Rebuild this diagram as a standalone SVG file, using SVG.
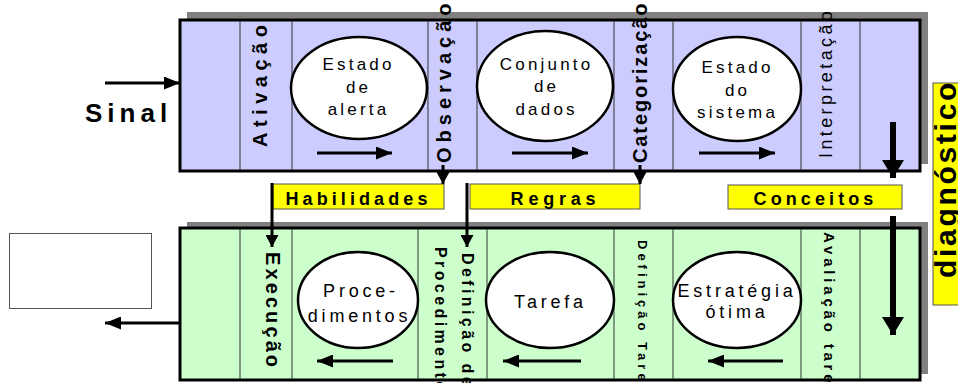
<svg xmlns="http://www.w3.org/2000/svg" width="958" height="383" viewBox="0 0 958 383">
<style>
text{font-family:"Liberation Sans",Arial,sans-serif;fill:#000}
.b{font-weight:bold}
.shadow{fill:#808080}
.frame{stroke:#000;stroke-width:3}
.top{fill:#CCCCFF}
.bot{fill:#CCFFCC}
.div{stroke:#333;stroke-width:1}
.ell{fill:#fff;stroke:#000;stroke-width:2.5}
.lab{fill:#FFFF00;stroke:#555;stroke-width:1}
.ln{stroke:#000;stroke-width:3;fill:none}
.lnB{stroke:#000;stroke-width:6;fill:none}
.et{font-size:17px;letter-spacing:3.2px;text-anchor:middle}
.eb{font-size:18px;letter-spacing:3.8px;text-anchor:middle}
.lt{font-size:18px;font-weight:bold;text-anchor:middle}
</style>
<defs>
<marker id="ah" markerUnits="userSpaceOnUse" markerWidth="16" markerHeight="13" refX="16" refY="6.5" orient="auto"><path d="M0,0 L16,6.5 L0,13 z" fill="#000"/></marker>
<marker id="ahS" markerUnits="userSpaceOnUse" markerWidth="12" markerHeight="13" refX="12" refY="6.5" orient="auto"><path d="M0,0 L12,6.5 L0,13 z" fill="#000"/></marker>
<marker id="ahB" markerUnits="userSpaceOnUse" markerWidth="18" markerHeight="22" refX="18" refY="11" orient="auto"><path d="M0,0 L18,11 L0,22 z" fill="#000"/></marker>
</defs>

<g id="stage-top">
<rect class="shadow" x="187" y="12" width="741" height="152"/>
<rect class="top frame" x="180" y="20" width="740" height="151"/>
<line class="div" x1="240" y1="21" x2="240" y2="170"/>
<line class="div" x1="292" y1="21" x2="292" y2="170"/>
<line class="div" x1="428" y1="21" x2="428" y2="170"/>
<line class="div" x1="477" y1="21" x2="477" y2="170"/>
<line class="div" x1="614" y1="21" x2="614" y2="170"/>
<line class="div" x1="673" y1="21" x2="673" y2="170"/>
<line class="div" x1="801" y1="21" x2="801" y2="170"/>
<line class="div" x1="860" y1="21" x2="860" y2="170"/>
</g>

<g id="stage-bottom">
<rect class="shadow" x="187" y="222" width="741" height="152"/>
<rect class="bot frame" x="180" y="228" width="740" height="152"/>
<line class="div" x1="240" y1="229" x2="240" y2="379"/>
<line class="div" x1="292" y1="229" x2="292" y2="379"/>
<line class="div" x1="418" y1="229" x2="418" y2="379"/>
<line class="div" x1="487" y1="229" x2="487" y2="379"/>
<line class="div" x1="614" y1="229" x2="614" y2="379"/>
<line class="div" x1="673" y1="229" x2="673" y2="379"/>
<line class="div" x1="801" y1="229" x2="801" y2="379"/>
<line class="div" x1="860" y1="229" x2="860" y2="379"/>
</g>

<g id="node-ativacao"><text class="b" font-size="20" letter-spacing="5.5" transform="translate(267,147) rotate(-90)">Ativação</text></g>
<g id="node-observacao"><text class="b" font-size="20" letter-spacing="5" transform="translate(451,163) rotate(-90)">Observação</text></g>
<g id="node-categorizacao"><text class="b" font-size="20" letter-spacing="1.9" transform="translate(647,163) rotate(-90)">Categorização</text></g>
<g id="node-interpretacao"><text font-size="18" letter-spacing="3.4" transform="translate(832,158) rotate(-90)">Interpretação</text></g>

<g id="node-estado-alerta">
<ellipse class="ell" cx="359" cy="88" rx="68" ry="51"/>
<text class="et" x="358.6" y="70">Estado</text>
<text class="et" x="358.6" y="93">de</text>
<text class="et" x="358.6" y="115">alerta</text>
</g>
<g id="node-conjunto-dados">
<ellipse class="ell" cx="545" cy="86" rx="68" ry="55"/>
<text class="et" x="546.6" y="70">Conjunto</text>
<text class="et" x="546.6" y="92">de</text>
<text class="et" x="546.6" y="115">dados</text>
</g>
<g id="node-estado-sistema">
<ellipse class="ell" cx="737" cy="89" rx="64" ry="52"/>
<text class="et" x="737.6" y="73">Estado</text>
<text class="et" x="737.6" y="96">do</text>
<text class="et" x="737.6" y="118">sistema</text>
</g>

<g id="node-execucao"><text class="b" font-size="20" letter-spacing="3.1" transform="translate(266,252) rotate(90)">Execução</text></g>
<g id="node-definicao-procedimentos">
<text class="b" font-size="16" letter-spacing="3.4" transform="translate(462,253) rotate(90)">Definição de</text>
<text class="b" font-size="16" letter-spacing="3.4" transform="translate(435,247) rotate(90)">Procedimentos</text>
</g>
<g id="node-definicao-tarefa"><text class="b" font-size="13" letter-spacing="4" transform="translate(638,240) rotate(90)">Definição Tarefa</text></g>
<g id="node-avaliacao-tarefa"><text class="b" font-size="15" letter-spacing="3.8" transform="translate(824,232) rotate(90)">Avaliação tarefa</text></g>

<g id="node-procedimentos">
<ellipse class="ell" cx="358" cy="300" rx="60" ry="48"/>
<text class="eb" x="361" y="297">Proce-</text>
<text class="eb" x="359.5" y="322">dimentos</text>
</g>
<g id="node-tarefa">
<ellipse class="ell" cx="550" cy="300" rx="64" ry="48"/>
<text class="eb" x="550.5" y="308">Tarefa</text>
</g>
<g id="node-estrategia">
<ellipse class="ell" cx="737" cy="300" rx="64" ry="48"/>
<text class="eb" letter-spacing="2.5" x="737" y="297">Estratégia</text>
<text class="eb" letter-spacing="2.5" x="737" y="318">ótima</text>
</g>

<g id="node-habilidades">
<rect class="lab" x="273" y="184" width="171" height="25"/>
<text class="lt" letter-spacing="4.1" x="358.5" y="205">Habilidades</text>
</g>
<g id="node-regras">
<rect class="lab" x="470" y="184" width="170" height="25"/>
<text class="lt" letter-spacing="4.8" x="555.5" y="205">Regras</text>
</g>
<g id="node-conceitos">
<rect class="lab" x="728" y="185" width="174" height="24"/>
<text class="lt" letter-spacing="4.1" x="815.5" y="205">Conceitos</text>
</g>
<g id="node-diagnostico">
<rect class="lab" x="933" y="83" width="30" height="222"/>
<text class="b" font-size="30" letter-spacing="2.7" transform="translate(956,278) rotate(-90)">diagnóstico</text>
</g>

<g id="node-sinal"><text class="b" font-size="26" letter-spacing="5" x="85" y="122">Sinal</text></g>
<g id="node-saida"><rect x="9.5" y="233.5" width="142" height="75" fill="#fff" stroke="#555" stroke-width="1"/></g>

<g id="connectors">
<line class="ln" x1="317" y1="153" x2="392" y2="153" marker-end="url(#ah)"/>
<line class="ln" x1="512" y1="153" x2="588" y2="153" marker-end="url(#ah)"/>
<line class="ln" x1="699" y1="153" x2="775" y2="153" marker-end="url(#ah)"/>
<line class="ln" x1="393" y1="361" x2="317" y2="361" marker-end="url(#ah)"/>
<line class="ln" x1="581" y1="361" x2="503" y2="361" marker-end="url(#ah)"/>
<line class="ln" x1="783" y1="361" x2="708" y2="361" marker-end="url(#ah)"/>
<line class="ln" x1="105" y1="83" x2="180" y2="83" marker-end="url(#ah)"/>
<line class="ln" x1="180" y1="323" x2="105" y2="323" marker-end="url(#ah)"/>
<line class="ln" x1="443" y1="165" x2="443" y2="184" marker-end="url(#ahS)"/>
<line class="ln" x1="640" y1="165" x2="640" y2="184" marker-end="url(#ahS)"/>
<line class="ln" x1="272" y1="183" x2="272" y2="247" marker-end="url(#ahS)"/>
<line class="ln" x1="467" y1="183" x2="467" y2="247" marker-end="url(#ahS)"/>
<line class="lnB" x1="893" y1="122" x2="893" y2="178" marker-end="url(#ahB)"/>
<line class="lnB" x1="893" y1="216" x2="893" y2="335" marker-end="url(#ahB)"/>
</g>
</svg>
